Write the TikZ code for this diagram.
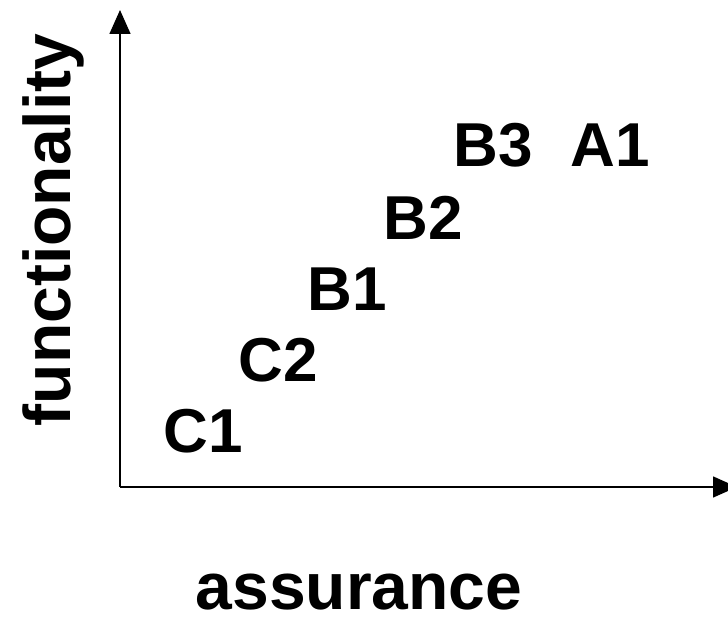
\documentclass[tikz,border=0pt]{standalone}
\usepackage{fontspec}
\setmainfont{Liberation Sans}
\usetikzlibrary{arrows.meta}
\tikzset{
  lbl/.style={inner sep=0pt, font=\fontsize{62}{62}\selectfont\bfseries},
  axislbl/.style={inner sep=0pt, font=\fontsize{66}{66}\selectfont\bfseries},
  axis/.style={line width=1.5pt, -{Triangle[length=24pt,width=21pt]}}
}
\begin{document}
\begin{tikzpicture}[x=1pt,y=1pt]
\useasboundingbox (0,0) rectangle (728,623);
\coordinate (O) at (120,136);
\coordinate (Ytop) at (120,613);
\coordinate (Xend) at (737,136);
\draw[axis] (O) -- (Ytop);
\draw[axis] (O) -- (Xend);
\node[lbl] (B3) at (493.5,477.5) {B3};
\node[lbl] (A1) at (610,477.5) {A1};
\node[lbl] (B2) at (423,405.5) {B2};
\node[lbl] (B1) at (347.5,333.5) {B1};
\node[lbl] (C2) at (278.5,262.5) {C2};
\node[lbl] (C1) at (203.5,191.5) {C1};
\node[axislbl, rotate=90, anchor=base] (fy) at (70,393) {functionality};
\node[axislbl, anchor=base] (ax) at (359,13) {assurance};
\end{tikzpicture}
\end{document}
